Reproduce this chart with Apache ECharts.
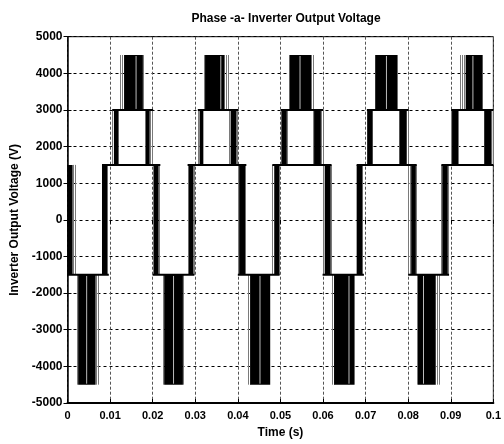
<!DOCTYPE html>
<html>
<head>
<meta charset="utf-8">
<script src="https://cdn.jsdelivr.net/npm/echarts@6/dist/echarts.min.js"></script>
<style>
  html, body { margin: 0; padding: 0; background: #fff; }
  #chart { width: 504px; height: 444px; }
</style>
</head>
<body>
<div id="chart"></div>
<script>
// Seven-level phase-a output: each half cycle is a set of PWM switching bands.
// Band order per cycle: A (+1500/-1500), B (-1500/-4500), C (-1500/+1500),
// D (+1500/+3000), E (+3000/+4500), F (+3000/+1500).
const bandLow  = [-1500, -4500, -1500, 1500, 3000, 1500];
const bandHigh = [ 1500, -1500,  1500, 3000, 4500, 3000];

// Per cycle, per band: [outer start, dense start, dense end, outer end] in seconds
const bandEdges = [
  [[0.0000, 0.0000, 0.0012, 0.0018], [0.0023, 0.0025, 0.0066, 0.0075], [0.0081, 0.0081, 0.0093, 0.0097],
   [0.0105, 0.0109, 0.0120, 0.0120], [0.0124, 0.0133, 0.0177, 0.0179], [0.0183, 0.0183, 0.0193, 0.0201]],
  [[0.0200, 0.0203, 0.0214, 0.0218], [0.0224, 0.0227, 0.0271, 0.0274], [0.0282, 0.0285, 0.0296, 0.0298],
   [0.0306, 0.0310, 0.0319, 0.0319], [0.0321, 0.0323, 0.0368, 0.0377], [0.0380, 0.0383, 0.0397, 0.0401]],
  [[0.0400, 0.0403, 0.0417, 0.0420], [0.0424, 0.0429, 0.0476, 0.0476], [0.0481, 0.0486, 0.0497, 0.0498],
   [0.0501, 0.0503, 0.0515, 0.0519], [0.0521, 0.0522, 0.0572, 0.0577], [0.0577, 0.0579, 0.0595, 0.0600]],
  [[0.0599, 0.0604, 0.0618, 0.0620], [0.0622, 0.0626, 0.0673, 0.0677], [0.0679, 0.0679, 0.0692, 0.0696],
   [0.0703, 0.0704, 0.0716, 0.0718], [0.0722, 0.0723, 0.0774, 0.0776], [0.0778, 0.0780, 0.0796, 0.0801]],
  [[0.0800, 0.0807, 0.0818, 0.0820], [0.0821, 0.0823, 0.0864, 0.0874], [0.0878, 0.0880, 0.0893, 0.0896],
   [0.0901, 0.0903, 0.0917, 0.0919], [0.0921, 0.0935, 0.0974, 0.0976], [0.0977, 0.0979, 0.0995, 0.1000]]
];

// Short gaps between pulses inside the widest bands (B and E)
const gapsB = [0.0045, 0.0249, 0.0452, 0.0661, 0.0836];
const gapsE = [0.0161, 0.0360, 0.0546, 0.0749, 0.0952];

const xTicks = [0, 0.01, 0.02, 0.03, 0.04, 0.05, 0.06, 0.07, 0.08, 0.09, 0.1];
const yTicks = [-5000, -4000, -3000, -2000, -1000, 0, 1000, 2000, 3000, 4000, 5000];

const FONT = "'Liberation Sans', Arial, sans-serif";
const tEnd = xTicks[xTicks.length - 1];

// Build drawable pieces from the arrays above
const denseData = [], edgeData = [], gapData = [], levelData = [];
bandEdges.forEach((cycle, c) => {
  cycle.forEach((e, b) => {
    denseData.push([e[1], e[2], bandLow[b], bandHigh[b]]);
    if (e[1] > e[0]) edgeData.push([e[0], e[1], bandLow[b], bandHigh[b]]);
    if (e[3] > e[2]) edgeData.push([e[2], e[3], bandLow[b], bandHigh[b]]);
  });
  gapData.push([gapsB[c], bandLow[1], bandHigh[1]]);
  gapData.push([gapsE[c], bandLow[4], bandHigh[4]]);
  const A = cycle[0], C = cycle[2], D = cycle[3], F = cycle[5];
  const nextA = bandEdges[c + 1] ? bandEdges[c + 1][0][3] : tEnd;
  levelData.push([A[0], C[3], -1500]);
  levelData.push([C[0], nextA, 1500]);
  levelData.push([D[0], F[3], 3000]);
});

// Dense switching: solid black block
function denseRenderer(params, api) {
  const p0 = api.coord([api.value(0), api.value(3)]);
  const p1 = api.coord([api.value(1), api.value(2)]);
  return {
    type: 'rect',
    shape: { x: p0[0], y: p0[1], width: Math.max(p1[0] - p0[0], 1), height: p1[1] - p0[1] },
    style: { fill: '#000' }
  };
}

// Sparse switching at a band's edge: thin grey pulse lines
function edgeRenderer(params, api) {
  const p0 = api.coord([api.value(0), api.value(3)]);
  const p1 = api.coord([api.value(1), api.value(2)]);
  const children = [];
  for (let x = Math.round(p0[0]) + 0.5; x <= p1[0] + 0.5; x += 2) {
    children.push({ type: 'line', shape: { x1: x, y1: p0[1], x2: x, y2: p1[1] },
                    style: { stroke: '#7a7a7a', lineWidth: 1 } });
  }
  return { type: 'group', children: children };
}

const chart = echarts.init(document.getElementById('chart'), null, { renderer: 'canvas' });

const axisText = { color: '#000', fontFamily: FONT, fontWeight: 'bold' };

chart.setOption({
  animation: false,
  backgroundColor: '#fff',
  title: {
    text: 'Phase -a- Inverter Output Voltage',
    left: 281, top: 8, textAlign: 'center',
    textStyle: { fontSize: 12, fontWeight: 'bold', fontFamily: FONT, color: '#000' }
  },
  grid: { left: 67.5, right: 8.7, top: 36.7, bottom: 41, show: true, borderColor: '#000', borderWidth: 1, backgroundColor: '#fff' },
  xAxis: [{
    type: 'value', min: xTicks[0], max: tEnd, interval: 0.01,
    name: 'Time (s)', nameLocation: 'middle', nameGap: 24,
    nameTextStyle: Object.assign({ fontSize: 12 }, axisText),
    axisLine: { onZero: false, lineStyle: { color: '#000', width: 2 } },
    axisTick: { inside: true, length: 4, lineStyle: { color: '#000' } },
    axisLabel: Object.assign({ fontSize: 11, margin: 7, formatter: v => String(+v.toFixed(2)) }, axisText),
    splitLine: { show: true, lineStyle: { color: '#555', type: [3, 2], width: 1 } }
  }, {
    type: 'value', position: 'top', min: xTicks[0], max: tEnd, interval: 0.01,
    axisLine: { show: false }, axisLabel: { show: false }, splitLine: { show: false },
    axisTick: { inside: true, length: 4, lineStyle: { color: '#000' } }
  }],
  yAxis: [{
    type: 'value', min: yTicks[0], max: yTicks[yTicks.length - 1], interval: 1000,
    name: 'Inverter Output Voltage (V)', nameLocation: 'middle', nameGap: 46, nameRotate: 90,
    nameTextStyle: Object.assign({ fontSize: 12 }, axisText),
    axisLine: { onZero: false, lineStyle: { color: '#000', width: 1.5 } },
    axisTick: { inside: true, length: 4, lineStyle: { color: '#000' } },
    axisLabel: Object.assign({ fontSize: 12, margin: 5, formatter: v => String(v) }, axisText),
    splitLine: { show: true, lineStyle: { color: '#000', type: [3, 3], width: 1 } }
  }, {
    type: 'value', position: 'right', min: yTicks[0], max: yTicks[yTicks.length - 1], interval: 1000,
    axisLine: { show: false }, axisLabel: { show: false }, splitLine: { show: false },
    axisTick: { inside: true, length: 4, lineStyle: { color: '#000' } }
  }],
  series: [
    {
      type: 'custom', name: 'edges', renderItem: edgeRenderer,
      encode: { x: [0, 1], y: [2, 3] }, data: edgeData, clip: true, silent: true
    },
    {
      type: 'custom', name: 'dense', renderItem: denseRenderer,
      encode: { x: [0, 1], y: [2, 3] }, data: denseData, clip: true, silent: true
    },
    {
      type: 'custom', name: 'gaps',
      renderItem: function (params, api) {
        const p0 = api.coord([api.value(0), api.value(2)]);
        const p1 = api.coord([api.value(0), api.value(1)]);
        return { type: 'line', shape: { x1: p0[0], y1: p0[1] + 1, x2: p1[0], y2: p1[1] - 1 },
                 style: { stroke: '#bbb', lineWidth: 1 } };
      },
      encode: { x: 0, y: [1, 2] }, data: gapData, clip: true, silent: true
    },
    {
      type: 'custom', name: 'levels',
      renderItem: function (params, api) {
        const p0 = api.coord([api.value(0), api.value(2)]);
        const p1 = api.coord([api.value(1), api.value(2)]);
        return { type: 'line', shape: { x1: p0[0], y1: p0[1], x2: p1[0], y2: p1[1] },
                 style: { stroke: '#000', lineWidth: 2 } };
      },
      encode: { x: [0, 1], y: 2 }, data: levelData, clip: true, silent: true
    }
  ]
});
</script>
</body>
</html>
